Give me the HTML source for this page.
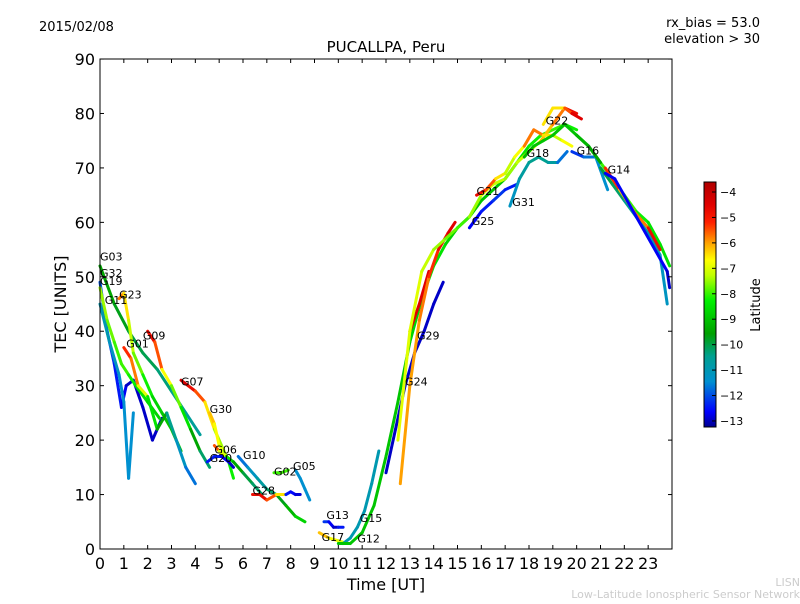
<!DOCTYPE html>
<html><head><meta charset="utf-8"><style>
body{margin:0;background:#fff;width:800px;height:600px;overflow:hidden;font-family:"DejaVu Sans","Liberation Sans",sans-serif}
svg text{font-family:"DejaVu Sans","Liberation Sans",sans-serif}
</style></head><body>
<svg id="c" width="800" height="600" xmlns="http://www.w3.org/2000/svg">
<defs><linearGradient id="jet" x1="0" y1="1" x2="0" y2="0"></linearGradient></defs>
<text x="39" y="31" font-size="13">2015/02/08</text>
<text x="760" y="27" font-size="13" text-anchor="end">rx_bias = 53.0</text>
<text x="760" y="43" font-size="13" text-anchor="end">elevation &gt; 30</text>
<text x="386" y="52" font-size="15" text-anchor="middle">PUCALLPA, Peru</text>
<text x="386" y="590" font-size="16" text-anchor="middle">Time [UT]</text>
<text x="66" y="304" font-size="16" text-anchor="middle" transform="rotate(-90 66 304)">TEC [UNITS]</text>
<text x="800" y="586" font-size="11" fill="#ccc" text-anchor="end">LISN</text>
<text x="800" y="598" font-size="11" fill="#ccc" text-anchor="end">Low-Latitude Ionospheric Sensor Network</text>
<g id="marks"></g>
<rect x="100" y="59" width="572" height="490" fill="none" stroke="#000" stroke-width="1"/>
<g id="axes"></g>
<rect x="704" y="182" width="12" height="245" fill="url(#jet)" stroke="#000" stroke-width="1"/>
<g id="cbticks"></g>
<text x="760" y="305" font-size="13" text-anchor="middle" transform="rotate(-90 760 305)">Latitude</text>
</svg>
<script>
const xTicks=[0,1,2,3,4,5,6,7,8,9,10,11,12,13,14,15,16,17,18,19,20,21,22,23];
const yTicks=[0,10,20,30,40,50,60,70,80,90];
const cbTicks=[-4,-5,-6,-7,-8,-9,-10,-11,-12,-13];
const satNames=["G03","G32","G19","G11","G23","G01","G09","G07","G30","G06","G20","G10","G28","G02","G05","G05b","G13","G17","G15","G12","G24","G29","G29b","Y1","G21","G25","G31","G22","G16","G14","G14b","G14c","G14d","G18"];
const T_G03=[0,0.6,1.2,1.8,2.4,3.0,3.6,4.2],V_G03=[52,45,40,36,33,29,25,21],L_G03=[-9.5,-9.5,-10,-10,-10.2,-10.5,-10.5,-10.8];
const T_G32=[0,0.3,0.6,0.9,1.1,1.4,1.8,2.2,2.6],V_G32=[49,40,34,26,30,31,26,20,24],L_G32=[-12,-12,-12.5,-12.5,-13,-13,-13,-13,-13];
const T_G19=[0,0.3,0.6,0.9,1.2,1.5,2.0,2.5],V_G19=[48,42,38,34,32,30,27,24],L_G19=[-7.5,-7.5,-8,-8,-8,-8.5,-8.5,-9];
const T_G11=[0,0.4,0.8,1.0,1.2,1.4],V_G11=[45,38,32,27,13,25],L_G11=[-11,-11,-11.5,-11.5,-11.5,-11.5];
const T_G23=[0.8,1.0,1.2,1.4,1.8,2.2,2.6,3.0,3.4],V_G23=[46,47,42,36,32,28,25,22,18],L_G23=[-5.5,-6,-7,-7.5,-8,-8.5,-9,-9,-9];
const T_G01=[1.0,1.3,1.6,2.0,2.4,2.8,3.2,3.6,4.0],V_G01=[37,35,30,28,22,25,20,15,12],L_G01=[-5,-5.5,-6,-8,-9,-10,-11,-11.5,-12];
const T_G09=[2.0,2.3,2.6,3.0,3.4,3.8,4.2,4.6],V_G09=[40,38,33,30,26,22,18,15],L_G09=[-4.5,-5,-6,-7.5,-8,-9,-10,-10.5];
const T_G07=[3.4,3.7,4.0,4.4,4.8,5.2],V_G07=[31,30,29,27,22,18],L_G07=[-4,-4.5,-5,-6,-7,-8];
const T_G30=[4.6,4.8,5.0,5.2,5.4,5.6],V_G30=[25,23,19,18,16,13],L_G30=[-6,-6.5,-7,-7,-8,-8.5];
const T_G06=[4.8,5.0,5.3,5.6,6.0,6.4,6.8],V_G06=[19,18,17,16,14,12,10],L_G06=[-5,-6,-8,-9,-10,-10,-10.5];
const T_G20=[4.5,4.8,5.1,5.4,5.6],V_G20=[16,17,17,16,15],L_G20=[-12.5,-12.5,-12.5,-13,-13];
const T_G10=[5.8,6.2,6.6,7.0,7.4,7.8,8.2,8.6],V_G10=[17,15,13,11,10,8,6,5],L_G10=[-12,-11.5,-11,-10.5,-10,-9.5,-9,-8.5];
const T_G28=[6.4,6.7,7.0,7.4,7.8],V_G28=[10,10,9,10,10],L_G28=[-5,-4.5,-5,-6,-7];
const T_G02=[7.3,7.6,7.9],V_G02=[14,14,14.5],L_G02=[-8,-8,-8];
const T_G05=[7.8,8.0,8.2,8.4],V_G05=[10,10.5,10,10],L_G05=[-12.5,-12.5,-12.8,-13];
const T_G05b=[8.2,8.4,8.6,8.8],V_G05b=[14.5,13,11,9],L_G05b=[-11.5,-11.5,-11.5,-11.5];
const T_G13=[9.4,9.6,9.8,10.0,10.2],V_G13=[5,5,4,4,4],L_G13=[-12,-12.5,-13,-13,-12];
const T_G17=[9.2,9.6,10.0,10.4],V_G17=[3,2,1.5,1],L_G17=[-6,-6.5,-7,-7];
const T_G15=[10.2,10.5,10.8,11.1,11.4,11.7],V_G15=[1,2,4,7,12,18],L_G15=[-11,-11,-11,-11,-11,-11];
const T_G12=[10,10.5,11,11.5,12,12.5,13,13.5,14,14.5,15,15.5,16,16.5,17,17.5,18,18.5,19,19.5,20],V_G12=[1,1,3,8,17,27,38,46,52,56,59,61,64,66,68,71,74,76,77,78,77],L_G12=[-9,-9,-9,-9,-9,-9,-9,-8.5,-8.5,-8.5,-9,-9,-9,-9,-9,-8.5,-8.5,-8,-8,-8,-8.5];
const T_G24=[12,12.4,12.8,13.2,13.6,14.0,14.4],V_G24=[14,22,30,36,40,45,49],L_G24=[-13,-13,-13,-13,-13,-13,-13];
const T_G29=[13,13.4,13.8],V_G29=[40,45,51],L_G29=[-4.5,-4.5,-4.5];
const T_G29b=[12.6,13.0,13.4,13.8,14.2,14.6,14.9],V_G29b=[12,30,42,50,55,58,60],L_G29b=[-6,-6,-6,-5.5,-5,-4.5,-4.5];
const T_Y1=[12.5,13,13.5,14,14.5,15,15.5,16,16.5,17,17.5,18,18.5,19,19.5,20],V_Y1=[20,40,51,55,57,59,61,65,67,68,71,73,75,78,81,80],L_Y1=[-7,-7,-7,-7.5,-7.5,-8,-8,-7,-7,-7.5,-7.5,-7,-6.5,-6,-5.5,-4];
const T_G21=[15.8,16.2,16.6,17,17.4,17.8,18.2,18.6,19,19.4,19.8],V_G21=[65,66,68,69,72,74,77,76,76,75,74],L_G21=[-4.5,-5,-6,-7,-7.5,-6,-5.5,-6,-7,-7.5,-6];
const T_G25=[15.5,16,16.5,17,17.5],V_G25=[59,62,64,66,67],L_G25=[-13,-12.5,-12.5,-12,-13];
const T_G31=[17.2,17.6,18,18.4,18.8,19.2,19.6],V_G31=[63,68,71,72,71,71,73],L_G31=[-11.5,-11,-10.5,-10.5,-10.5,-11,-12.5];
const T_G22=[18.6,19,19.5,19.8,20.2],V_G22=[78,81,81,80,79],L_G22=[-6,-7,-6,-5,-4];
const T_G16=[19.8,20.3,20.8,21.3],V_G16=[73,72,72,66],L_G16=[-12.5,-12,-11.5,-11.5];
const T_G14=[20,20.5,21,21.5,22,22.5,23,23.5,23.9],V_G14=[76,74,71,68,65,62,60,56,52],L_G14=[-8.5,-8.5,-8,-8,-8,-8,-8.5,-8.5,-8.5];
const T_G14b=[21,21.5,22,22.5,23,23.5,23.8],V_G14b=[70,67,64,61,58,54,45],L_G14b=[-10,-10,-10.5,-10.5,-11,-11,-11.5];
const T_G14c=[21.2,21.8,22.4,23,23.5],V_G14c=[70,66,62,59,55],L_G14c=[-4.5,-6,-6.5,-5,-4.5];
const T_G14d=[21.2,21.6,23.8,23.9],V_G14d=[69,68,51,48],L_G14d=[-13,-12.5,-13,-13];
const T_G18=[17.8,18.2,18.6,19,19.5,20,20.5,21],V_G18=[72,74,75,76,78,76,74,71],L_G18=[-9.5,-9,-9,-9,-9,-9,-9.5,-9.5];
const labels=[["G03",0,53],["G32",0,50],["G19",0,48.5],["G11",0.2,45],["G23",0.8,46],["G01",1.1,37],["G09",1.8,38.5],["G07",3.4,30],["G30",4.6,25],["G06",4.8,17.5],["G20",4.6,16],["G10",6.0,16.5],["G28",6.4,10],["G02",7.3,13.5],["G05",8.1,14.5],["G13",9.5,5.5],["G17",9.3,1.5],["G15",10.9,5],["G12",10.8,1.2],["G24",12.8,30],["G29",13.3,38.5],["G21",15.8,65],["G25",15.6,59.5],["G31",17.3,63],["G18",17.9,72],["G22",18.7,78],["G16",20.0,72.5],["G14",21.3,69]];
const cmapL=[-13.3,-12.7,-11.5,-10.5,-9.6,-8.3,-7.3,-6.7,-6.0,-5.2,-4.5,-3.6];
const cmapC=[[0,0,143],[0,0,255],[0,144,208],[0,160,144],[0,160,0],[0,240,0],[192,255,0],[255,255,0],[255,160,0],[255,32,0],[224,0,0],[176,0,0]];
const X=t=>100+t*23.833, Y=v=>549-v*5.444;
function jet(l){if(l<=cmapL[0])return `rgb(${cmapC[0]})`;
 for(let i=0;i<cmapL.length-1;i++){if(l<=cmapL[i+1]){const f=(l-cmapL[i])/(cmapL[i+1]-cmapL[i]);
  return 'rgb('+cmapC[i].map((c,k)=>Math.round(c+(cmapC[i+1][k]-c)*f)).join(',')+')';}}
 return `rgb(${cmapC[cmapC.length-1]})`;}
const NS="http://www.w3.org/2000/svg";
const G=document.getElementById('jet');
cmapL.forEach((l,i)=>{const s=document.createElementNS(NS,'stop');s.setAttribute('offset',(l+13.3)/9.7);s.setAttribute('stop-color',`rgb(${cmapC[i]})`);G.appendChild(s);});
const M=document.getElementById('marks');
satNames.forEach(n=>{const T=eval('T_'+n),V=eval('V_'+n),L=eval('L_'+n);
 const g=document.createElementNS(NS,'g');
 
 
 for(let i=0;i<T.length-1;i++){const s=document.createElementNS(NS,'line');
  s.setAttribute('x1',X(T[i]));s.setAttribute('y1',Y(V[i]));s.setAttribute('x2',X(T[i+1]));s.setAttribute('y2',Y(V[i+1]));
  s.setAttribute('stroke',jet((L[i]+L[i+1])/2));s.setAttribute('stroke-width','3');s.setAttribute('stroke-linecap','round');
  
  
  g.appendChild(s);}
 M.appendChild(g);});
labels.forEach(a=>{const t=document.createElementNS(NS,'text');t.setAttribute('x',X(a[1]));t.setAttribute('y',Y(a[2]));t.setAttribute('font-size','11');t.textContent=a[0];
 
 
 M.appendChild(t);});
const A=document.getElementById('axes');
function add(tag,at,txt){const e=document.createElementNS(NS,tag);for(const k in at)e.setAttribute(k,at[k]);if(txt!==undefined)e.textContent=txt;A.appendChild(e);return e;}
xTicks.forEach(t=>{add('line',{x1:X(t),y1:549,x2:X(t),y2:545,stroke:'#000'});add('line',{x1:X(t),y1:59,x2:X(t),y2:63,stroke:'#000'});
 const e=add('text',{x:X(t),y:569,'font-size':'16','text-anchor':'middle'},t);
 
 });
yTicks.forEach(v=>{add('line',{x1:100,y1:Y(v),x2:104,y2:Y(v),stroke:'#000'});add('line',{x1:672,y1:Y(v),x2:668,y2:Y(v),stroke:'#000'});
 const e=add('text',{x:95,y:Y(v)+6,'font-size':'16','text-anchor':'end'},v);
 
 });
const C=document.getElementById('cbticks');
cbTicks.forEach(v=>{const y=192+(-4-v)*25.44;
 const l=document.createElementNS(NS,'line');l.setAttribute('x1',712);l.setAttribute('x2',716);l.setAttribute('y1',y);l.setAttribute('y2',y);l.setAttribute('stroke','#000');C.appendChild(l);
 const t=document.createElementNS(NS,'text');t.setAttribute('x',720);t.setAttribute('y',y+4);t.setAttribute('font-size','11');t.textContent='\u2212'+(-v);
 
 
 C.appendChild(t);});
</script>
</body></html>
